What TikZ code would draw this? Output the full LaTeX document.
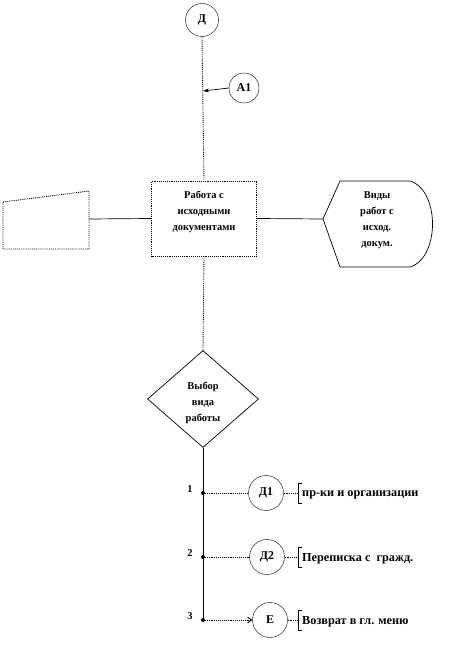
\documentclass[tikz,border=0pt]{standalone}
\usepackage{fontspec}
\setmainfont{Liberation Serif}
\usetikzlibrary{shapes.geometric,arrows.meta}
\begin{document}
\begin{tikzpicture}[x=1bp,y=-1bp,
  txt/.style={font=\bfseries\fontsize{10.5}{16}\selectfont, align=center, inner sep=0pt},
  lbl/.style={font=\bfseries\fontsize{12.3}{14}\selectfont, inner sep=0pt, anchor=west},
  circ/.style={draw, circle, minimum size=33bp, inner sep=0pt, font=\bfseries\fontsize{12}{13}\selectfont},
  dotl/.style={densely dotted, line width=0.9pt},
  solidl/.style={line width=0.7pt},
  brk/.style={line width=0.7pt}
]
\useasboundingbox (0,0) rectangle (476,672);
% top circles
\node[circ] (D) at (202,20) {Д};
\node[circ, minimum size=30bp] (A1) at (244,88) {А1};
% main box
\node[draw, dotl, minimum width=105bp, minimum height=75bp] (box) at (204,218.5) {};
\node[txt] (boxt) at (204,212) {Работа с\\исходными\\документами};
% vertical D -> box
\draw[dotl] (D.south) -- (box.north);
\coordinate (a1end) at (203,91);
\draw[solidl, -{Stealth[length=6pt,width=4pt]}] (A1.west) -- (a1end);
% left trapezoid
\draw[dotl] (3,202) -- (89,191) -- (89,249) -- (3,249) -- cycle;
\coordinate (trapR) at (89,219);
\draw[solidl] (trapR) -- (box.west);
% right display shape
\draw[solidl] (323,219) -- (340,181) -- (410,181) .. controls (440,190) and (440,258) .. (410,267) -- (340,267) -- cycle;
\coordinate (dispL) at (323,219);
\node[txt] (vid) at (377,220) {Виды\\работ с\\исход.\\докум.};
\draw[solidl] (box.east) -- (dispL);
% diamond
\node[draw, diamond, solidl, minimum width=111bp, minimum height=97bp, inner sep=0pt] (dia) at (203,399) {};
\node[txt] (diat) at (203,403) {Выбор\\вида\\работы};
\draw[dotl] (box.south) -- (dia.north);
% vertical line below diamond
\coordinate (vend) at (203,620);
\draw[solidl] (dia.south) -- (vend);
% branches
\foreach \i/\y/\txtlab in {1/493/пр-ки и организации, 2/557/Переписка с\ \ гражд., 3/620/Возврат в гл. меню}{
  \coordinate (p\i) at (203,\y);
  \fill (p\i) circle (2bp);
  \node[font=\bfseries\fontsize{10.5}{12}\selectfont, inner sep=0pt] (n\i) at (190,\y-4) {\i};
  \node[lbl] (t\i) at (302,\y+2) {\txtlab};
  \coordinate (b\i) at (298,\y);
  \draw[brk] (302,\y-10) -- (298,\y-10) -- (298,\y+10) -- (302,\y+10);
}
\node[circ, minimum size=35bp] (c1) at (266,493) {Д1};
\node[circ, minimum size=35bp] (c2) at (267,557) {Д2};
\node[circ, minimum size=35bp] (c3) at (270,620) {Е};
\draw[dotl] (p1) -- (c1.west);
\draw[dotl] (p2) -- (c2.west);
\draw[dotl, -{Straight Barb[length=4pt,width=6pt]}] (p3) -- (c3.west);
\draw[dotl] (c1.east) -- (b1);
\draw[dotl] (c2.east) -- (b2);
\draw[dotl] (c3.east) -- (b3);
\end{tikzpicture}
\end{document}
